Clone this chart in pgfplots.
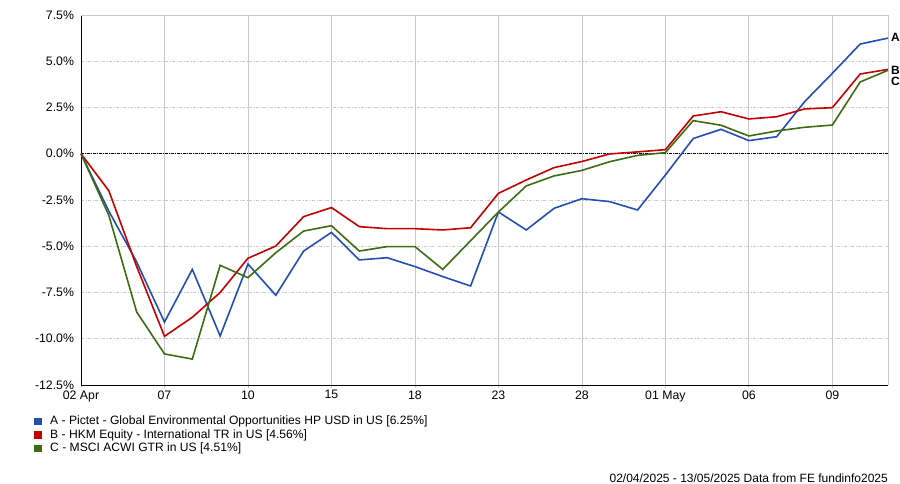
\documentclass[border=0pt]{standalone}
\usepackage{fontspec}
\setmainfont{Liberation Sans}
\usepackage{pgfplots}
\pgfplotsset{compat=1.18}
\definecolor{serA}{RGB}{36,78,178}
\definecolor{serB}{RGB}{196,0,0}
\definecolor{serC}{RGB}{62,108,18}
\definecolor{gridgray}{RGB}{200,200,200}
\begin{document}
\begin{tikzpicture}[x=1bp,y=1bp]
\path[use as bounding box] (0,0) rectangle (900,484);
\begin{axis}[
    at={(81bp,99bp)}, anchor=south west,
    width=807bp, height=370bp, scale only axis,
    xmin=0, xmax=29,
    ymin=-12.5, ymax=7.5,
    axis x line=bottom, axis y line=left,
    axis line style={black, line width=0.8bp, -},
    xtick={0,3,...,27},
    xticklabels={02 Apr,07,10,15,18,23,28,01 May,06,09},
    ytick={-12.5,-10,...,7.5},
    yticklabels={-12.5\%,-10.0\%,-7.5\%,-5.0\%,-2.5\%,0.0\%,2.5\%,5.0\%,7.5\%},
    /pgf/number format/assume math mode=true,
    tick label style={font=\fontsize{12.3bp}{14bp}\selectfont},
    xtick align=outside, major tick length=3bp,
    x tick style={gridgray, line width=0.8bp},
    y tick style={draw=none},
    yticklabel style={xshift=-2bp},
    xticklabel style={yshift=1bp},
    xmajorgrids, ymajorgrids,
    x grid style={gridgray, line width=0.8bp},
    y grid style={gridgray, line width=0.8bp, dash pattern=on 3bp off 1.5bp on 1bp off 1.5bp},
    clip=false,
]
\draw[gridgray, line width=0.8bp] (axis cs:0,7.5) -- (axis cs:29,7.5) -- (axis cs:29,-12.5);
\draw[black, line width=0.7bp, dash pattern=on 3bp off 1bp on 1bp off 1bp] (axis cs:0,0) -- (axis cs:29,0);
\addplot[serA, line width=1.6bp] table {
0 0
1 -3.10
2 -5.85
3 -9.10
4 -6.25
5 -9.85
6 -5.96
7 -7.65
8 -5.26
9 -4.25
10 -5.74
11 -5.62
12 -6.10
13 -6.64
14 -7.15
15 -3.15
16 -4.12
17 -2.95
18 -2.43
19 -2.59
20 -3.04
21 -1.15
22 0.82
23 1.32
24 0.71
25 0.92
26 2.81
27 4.35
28 5.93
29 6.25
};
\addplot[serB, line width=1.6bp] table {
0 0
1 -2.00
2 -6.09
3 -9.87
4 -8.84
5 -7.50
6 -5.65
7 -4.99
8 -3.40
9 -2.91
10 -3.94
11 -4.05
12 -4.05
13 -4.12
14 -4.00
15 -2.14
16 -1.42
17 -0.75
18 -0.42
19 -0.01
20 0.10
21 0.22
22 2.04
23 2.27
24 1.88
25 2.00
26 2.42
27 2.49
28 4.31
29 4.56
};
\addplot[serC, line width=1.6bp] table {
0 0
1 -3.33
2 -8.55
3 -10.82
4 -11.10
5 -6.03
6 -6.70
7 -5.35
8 -4.18
9 -3.89
10 -5.26
11 -5.02
12 -5.02
13 -6.25
14 -4.70
15 -3.15
16 -1.74
17 -1.20
18 -0.90
19 -0.43
20 -0.09
21 0.06
22 1.79
23 1.54
24 0.96
25 1.23
26 1.43
27 1.55
28 3.88
29 4.51
};
\end{axis}
% end labels
\begin{scope}[font=\fontsize{12bp}{14bp}\selectfont\bfseries]
\node[anchor=west, inner sep=0] at (891,447) {A};
\node[anchor=west, inner sep=0] at (891,414) {B};
\node[anchor=west, inner sep=0] at (891,403) {C};
\end{scope}
% legend
\begin{scope}[font=\fontsize{12.1bp}{14bp}\selectfont]
\fill[serA] (34,58.5) rectangle (41.5,66);
\node[anchor=west, inner sep=0] at (50,62.3) {A - Pictet - Global Environmental Opportunities HP USD in US [6.25\%]};
\fill[serB] (34,45) rectangle (41.5,52.5);
\node[anchor=west, inner sep=0] at (50,48.7) {B - HKM Equity - International TR in US [4.56\%]};
\fill[serC] (34,31.5) rectangle (41.5,39);
\node[anchor=west, inner sep=0] at (50,35.3) {C - MSCI ACWI GTR in US [4.51\%]};
\node[anchor=east, inner sep=0, font=\fontsize{12bp}{14bp}\selectfont] at (888,6) {02/04/2025 - 13/05/2025 Data from FE fundinfo2025};
\end{scope}
\end{tikzpicture}
\end{document}
